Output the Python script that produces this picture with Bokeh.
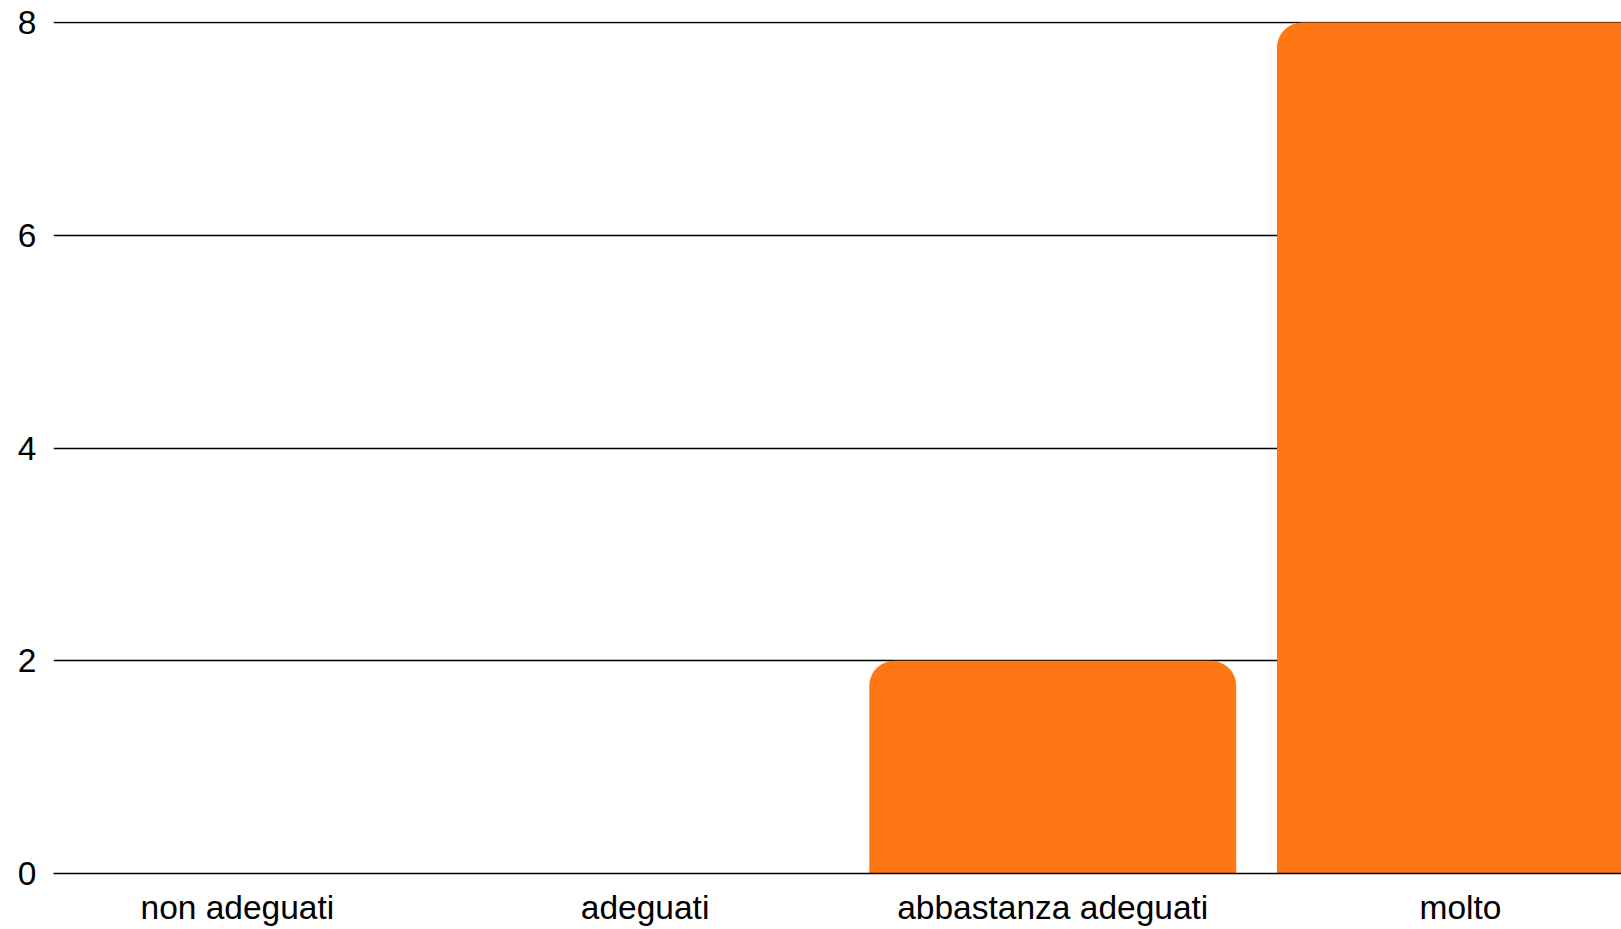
from bokeh.plotting import figure
from bokeh.models import ColumnDataSource, Range1d, FixedTicker, CDSView, IndexFilter
from bokeh.embed import file_html
from bokeh.resources import INLINE

categories = ["non adeguati", "adeguati", "abbastanza adeguati", "molto"]
values = [0, 0, 2, 8]
y_ticks = [0, 2, 4, 6, 8]

BAR_W = 0.9
X_START, X_END = -0.451, 3.395

xs = list(range(len(categories)))
source = ColumnDataSource(dict(x=xs, top=values, cat=categories))

p = figure(width=1621, height=929, output_backend="svg", toolbar_location=None,
           x_range=Range1d(X_START, X_END), y_range=Range1d(0, 8.01),
           min_border_left=53, min_border_right=0, min_border_top=21, min_border_bottom=56)
p.outline_line_color = None
p.background_fill_color = "white"
p.border_fill_color = "white"

inside = [i for i in xs if xs[i] + BAR_W / 2 <= X_END]
clipped = [i for i in xs if xs[i] + BAR_W / 2 > X_END]

p.vbar(x="x", top="top", bottom=0, width=BAR_W, source=source, view=CDSView(filter=IndexFilter(inside)),
       fill_color="#FD7715", line_color=None, border_radius=(25, 25, 0, 0))
p.vbar(x="x", top="top", bottom=0, width=BAR_W, source=source, view=CDSView(filter=IndexFilter(clipped)),
       fill_color="#FD7715", line_color=None, border_radius=(25, 0, 0, 0))

p.xgrid.grid_line_color = None
p.ygrid.grid_line_color = "black"
p.ygrid.grid_line_width = 1.6
p.ygrid.ticker = FixedTicker(ticks=y_ticks)

p.yaxis.ticker = FixedTicker(ticks=y_ticks)
p.yaxis.axis_line_color = None
p.yaxis.major_tick_line_color = None
p.yaxis.minor_tick_line_color = None
p.yaxis.major_tick_out = 0
p.yaxis.major_label_standoff = 17
p.yaxis.major_label_text_font = "Liberation Sans"
p.yaxis.major_label_text_font_size = "33.5px"
p.yaxis.major_label_text_color = "black"

p.xaxis.ticker = FixedTicker(ticks=xs)
p.xaxis.major_label_overrides = {i: c for i, c in enumerate(categories)}
p.xaxis.axis_line_color = "black"
p.xaxis.axis_line_width = 1.6
p.xaxis.major_tick_line_color = None
p.xaxis.minor_tick_line_color = None
p.xaxis.major_tick_out = 0
p.xaxis.major_label_standoff = 15
p.xaxis.major_label_text_font = "Liberation Sans"
p.xaxis.major_label_text_font_size = "33.5px"
p.xaxis.major_label_text_color = "black"

open("out.html", "w").write(file_html(p, INLINE))
